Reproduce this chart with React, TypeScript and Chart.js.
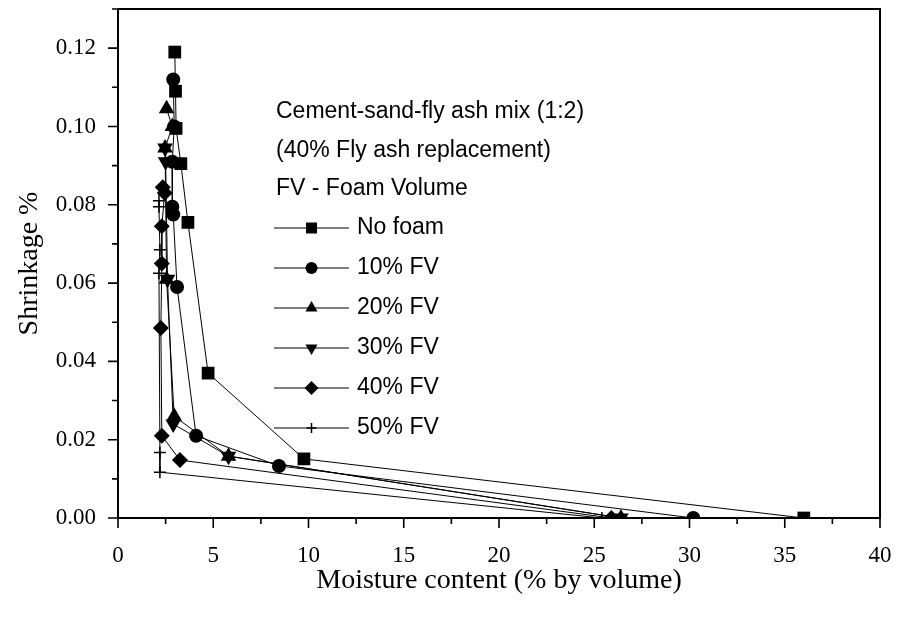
import { useEffect, useRef } from 'react';
import { Chart, registerables } from 'chart.js';

Chart.register(...registerables);

// Moisture content (% by volume) and shrinkage (%) for each foam volume
const noFoamX = [2.98, 3.02, 3.05, 3.3, 3.67, 4.73, 9.76, 36.0];
const noFoamY = [0.119, 0.109, 0.0995, 0.0905, 0.0755, 0.037, 0.0151, 0];

const fv10X = [2.9, 2.95, 2.85, 2.85, 2.9, 3.1, 4.1, 8.45, 30.2];
const fv10Y = [0.112, 0.1, 0.091, 0.0795, 0.0775, 0.059, 0.021, 0.0133, 0];

const fv20X = [2.55, 2.85, 2.47, 2.55, 2.95, 5.8, 26.4];
const fv20Y = [0.1045, 0.1, 0.0945, 0.061, 0.026, 0.0158, 0];

const fv30X = [2.47, 2.5, 2.6, 2.9, 5.8, 26.4];
const fv30Y = [0.0945, 0.091, 0.061, 0.024, 0.0158, 0];

const fv40X = [2.35, 2.45, 2.3, 2.3, 2.25, 2.3, 3.25, 25.9];
const fv40Y = [0.0845, 0.083, 0.0745, 0.065, 0.0485, 0.021, 0.0148, 0];

const fv50X = [2.15, 2.15, 2.2, 2.15, 2.2, 2.2, 25.4];
const fv50Y = [0.081, 0.0795, 0.0685, 0.0625, 0.0167, 0.0117, 0];

const seriesLabels = ['No foam', '10% FV', '20% FV', '30% FV', '40% FV', '50% FV'];
const legendHeader = [
  'Cement-sand-fly ash mix (1:2)',
  '(40% Fly ash replacement)',
  'FV - Foam Volume',
];

const xTitle = 'Moisture content (% by volume)';
const yTitle = 'Shrinkage %';

const SERIF = "'Liberation Serif', 'Times New Roman', serif";
const SANS = "'Liberation Sans', Arial, sans-serif";

type MarkerKind = 'square' | 'circle' | 'up' | 'down' | 'diamond' | 'plus';
const markerKinds: MarkerKind[] = ['square', 'circle', 'up', 'down', 'diamond', 'plus'];

const toPoints = (xs: number[], ys: number[]) => xs.map((x, i) => ({ x, y: ys[i] }));

function drawMarker(ctx: CanvasRenderingContext2D, kind: MarkerKind, x: number, y: number, r: number) {
  ctx.beginPath();
  switch (kind) {
    case 'square':
      ctx.rect(x - r, y - r, 2 * r, 2 * r);
      ctx.fill();
      break;
    case 'circle':
      ctx.arc(x, y, r, 0, Math.PI * 2);
      ctx.fill();
      break;
    case 'up':
      ctx.moveTo(x, y - r);
      ctx.lineTo(x + r * 0.866, y + r * 0.5);
      ctx.lineTo(x - r * 0.866, y + r * 0.5);
      ctx.closePath();
      ctx.fill();
      break;
    case 'down':
      ctx.moveTo(x, y + r);
      ctx.lineTo(x + r * 0.866, y - r * 0.5);
      ctx.lineTo(x - r * 0.866, y - r * 0.5);
      ctx.closePath();
      ctx.fill();
      break;
    case 'diamond':
      ctx.moveTo(x, y - r);
      ctx.lineTo(x + r, y);
      ctx.lineTo(x, y + r);
      ctx.lineTo(x - r, y);
      ctx.closePath();
      ctx.fill();
      break;
    case 'plus':
      ctx.lineWidth = 1.5;
      ctx.moveTo(x - r, y);
      ctx.lineTo(x + r, y);
      ctx.moveTo(x, y - r);
      ctx.lineTo(x, y + r);
      ctx.stroke();
      break;
  }
}

// Frame, outward minor/major ticks and the in-plot legend block
const framePlugin = {
  id: 'frameAndLegend',
  afterDraw(chart: any) {
    const { ctx, chartArea, scales } = chart;
    const { left, right, top, bottom } = chartArea;
    ctx.save();
    ctx.strokeStyle = '#000';
    ctx.fillStyle = '#000';
    ctx.lineWidth = 2;
    ctx.strokeRect(left, top, right - left, bottom - top);

    ctx.lineWidth = 1.6;
    ctx.beginPath();
    for (let v = 0; v <= 40.001; v += 2.5) {
      const px = scales.x.getPixelForValue(v);
      const major = Math.abs(v / 5 - Math.round(v / 5)) < 1e-6;
      ctx.moveTo(px, bottom);
      ctx.lineTo(px, bottom + (major ? 10 : 6));
    }
    for (let i = 0; i <= 13; i++) {
      const py = scales.y.getPixelForValue(i * 0.01);
      const major = i % 2 === 0;
      ctx.moveTo(left, py);
      ctx.lineTo(left - (major ? 10 : 6), py);
    }
    ctx.stroke();

    // legend: three header lines, then one row per series
    const textX = 276;
    const headerTop = 112;
    const headerStep = 38.5;
    const rowTop = 228;
    const rowStep = 40;
    ctx.font = `23px ${SANS}`;
    ctx.textBaseline = 'middle';
    ctx.textAlign = 'left';
    legendHeader.forEach((t, i) => ctx.fillText(t, textX, headerTop + i * headerStep));
    chart.data.datasets.forEach((ds: any, i: number) => {
      const y = rowTop + i * rowStep;
      ctx.lineWidth = 1;
      ctx.beginPath();
      ctx.moveTo(274, y);
      ctx.lineTo(349, y);
      ctx.stroke();
      const kind = markerKinds[i];
      const r = kind === 'square' ? 5.5 : kind === 'circle' ? 6 : kind === 'plus' ? 5 : 7;
      drawMarker(ctx, kind, 311.5, y, r);
      ctx.fillText(ds.label, 357, y);
    });
    ctx.restore();
  },
};

const baseDataset = {
  borderColor: '#000',
  backgroundColor: '#000',
  pointBackgroundColor: '#000',
  pointBorderColor: '#000',
  borderWidth: 1,
  showLine: true,
  fill: false,
  tension: 0,
};

export default function App() {
  const canvasRef = useRef<HTMLCanvasElement>(null);

  useEffect(() => {
    if (!canvasRef.current) return;
    const chart = new Chart(canvasRef.current, {
      type: 'scatter',
      data: {
        datasets: [
          { ...baseDataset, label: seriesLabels[0], data: toPoints(noFoamX, noFoamY), pointStyle: 'rect', pointRadius: 9, pointBorderWidth: 0 },
          { ...baseDataset, label: seriesLabels[1], data: toPoints(fv10X, fv10Y), pointStyle: 'circle', pointRadius: 7, pointBorderWidth: 0 },
          { ...baseDataset, label: seriesLabels[2], data: toPoints(fv20X, fv20Y), pointStyle: 'triangle', pointRadius: 9, pointBorderWidth: 0 },
          { ...baseDataset, label: seriesLabels[3], data: toPoints(fv30X, fv30Y), pointStyle: 'triangle', pointRotation: 180, pointRadius: 9, pointBorderWidth: 0 },
          { ...baseDataset, label: seriesLabels[4], data: toPoints(fv40X, fv40Y), pointStyle: 'rectRot', pointRadius: 8, pointBorderWidth: 0 },
          { ...baseDataset, label: seriesLabels[5], data: toPoints(fv50X, fv50Y), pointStyle: 'cross', pointRadius: 6, pointBorderWidth: 1.5 },
        ],
      } as any,
      options: {
        animation: false,
        responsive: true,
        maintainAspectRatio: false,
        layout: { padding: { top: 9, right: 22, left: 0, bottom: 0 } },
        plugins: {
          legend: { display: false },
          tooltip: { enabled: false },
        },
        scales: {
          x: {
            type: 'linear',
            min: 0,
            max: 40,
            grid: { display: false },
            border: { display: false },
            ticks: {
              stepSize: 5,
              padding: 16,
              color: '#000',
              font: { family: SERIF, size: 23 },
              maxRotation: 0,
            },
            title: {
              display: true,
              text: xTitle,
              color: '#000',
              font: { family: SERIF, size: 28 },
              padding: { top: 0, bottom: 24 },
            },
            afterFit: (scale: any) => {
              scale.height = 103;
              scale.paddingLeft = 0;
              scale.paddingRight = 0;
            },
          },
          y: {
            type: 'linear',
            min: 0,
            max: 0.13,
            grid: { display: false },
            border: { display: false },
            ticks: {
              stepSize: 0.02,
              includeBounds: false,
              padding: 14,
              color: '#000',
              font: { family: SERIF, size: 23 },
              callback: (v: any) => Number(v).toFixed(2),
            },
            title: {
              display: true,
              text: yTitle,
              color: '#000',
              font: { family: SERIF, size: 28 },
              padding: { top: 13, bottom: 0 },
            },
            afterFit: (scale: any) => {
              scale.width = 118;
              scale.paddingTop = 0;
              scale.paddingBottom = 0;
            },
          },
        },
      } as any,
      plugins: [framePlugin],
    });
    return () => chart.destroy();
  }, []);

  return (
    <div style={{ position: 'fixed', left: 0, top: 0, width: 902, height: 621, background: '#fff' }}>
      <canvas ref={canvasRef} />
    </div>
  );
}
